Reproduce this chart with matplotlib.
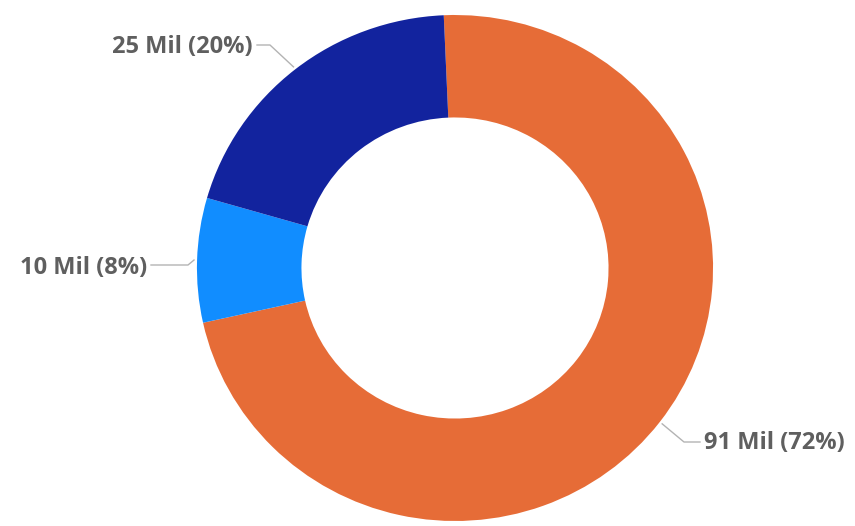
import numpy as np
import matplotlib.pyplot as plt

# Donut of totals by segment
values = [91, 10, 25]
value_labels = ['91 Mil', '10 Mil', '25 Mil']
colors = ['#E66C37', '#118DFF', '#12239E']

# label text anchor, leader elbow (pixel coords, y downward)
label_pos = [(704, 443), (147, 268), (253, 47)]
elbow_pos = [(684, 442), (188, 265), (270, 45)]
label_ha = ['left', 'right', 'right']

W, H = 855, 526
cx, cy, r = 455, 268, 253
xstretch = 1.02  # ring is drawn slightly wider than tall

fig = plt.figure(figsize=(W / 100, H / 100), dpi=100)
ax = fig.add_axes([0, 0, 1, 1])

wedges, _ = ax.pie(values, colors=colors, startangle=92.5, counterclock=False,
                   center=(cx, H - cy), radius=r,
                   wedgeprops=dict(width=r * 0.405, linewidth=0))

# pie() resets the limits around its center, so set them afterwards
ax.set_xlim(cx - cx / xstretch, cx + (W - cx) / xstretch)
ax.set_ylim(0, H)
ax.set_aspect('auto')
ax.axis('off')


def to_data(px, py):
    return cx + (px - cx) / xstretch, H - py


total = sum(values)
for w, v, lab, (tx, ty), (ex, ey), ha in zip(wedges, values, value_labels,
                                             label_pos, elbow_pos, label_ha):
    mid = np.deg2rad((w.theta1 + w.theta2) / 2)
    sx = cx + (r + 3) * np.cos(mid)
    sy = H - cy + (r + 3) * np.sin(mid)
    gap = 4 if ha == 'left' else -4
    ex_d, ey_d = to_data(ex, ey)
    lx_d, _ = to_data(tx - gap, ey)
    ax.plot([sx, ex_d, lx_d], [sy, ey_d, ey_d], color='#b3b3b3', lw=1)
    pct = round(100 * v / total)
    tx_d, ty_d = to_data(tx, ty)
    ax.text(tx_d, ty_d, f'{lab} ({pct}%)', ha=ha, va='center',
            fontsize=17, fontweight='bold', family='Open Sans', color='#5f5f5f')

fig.savefig('out.png', dpi=100)
